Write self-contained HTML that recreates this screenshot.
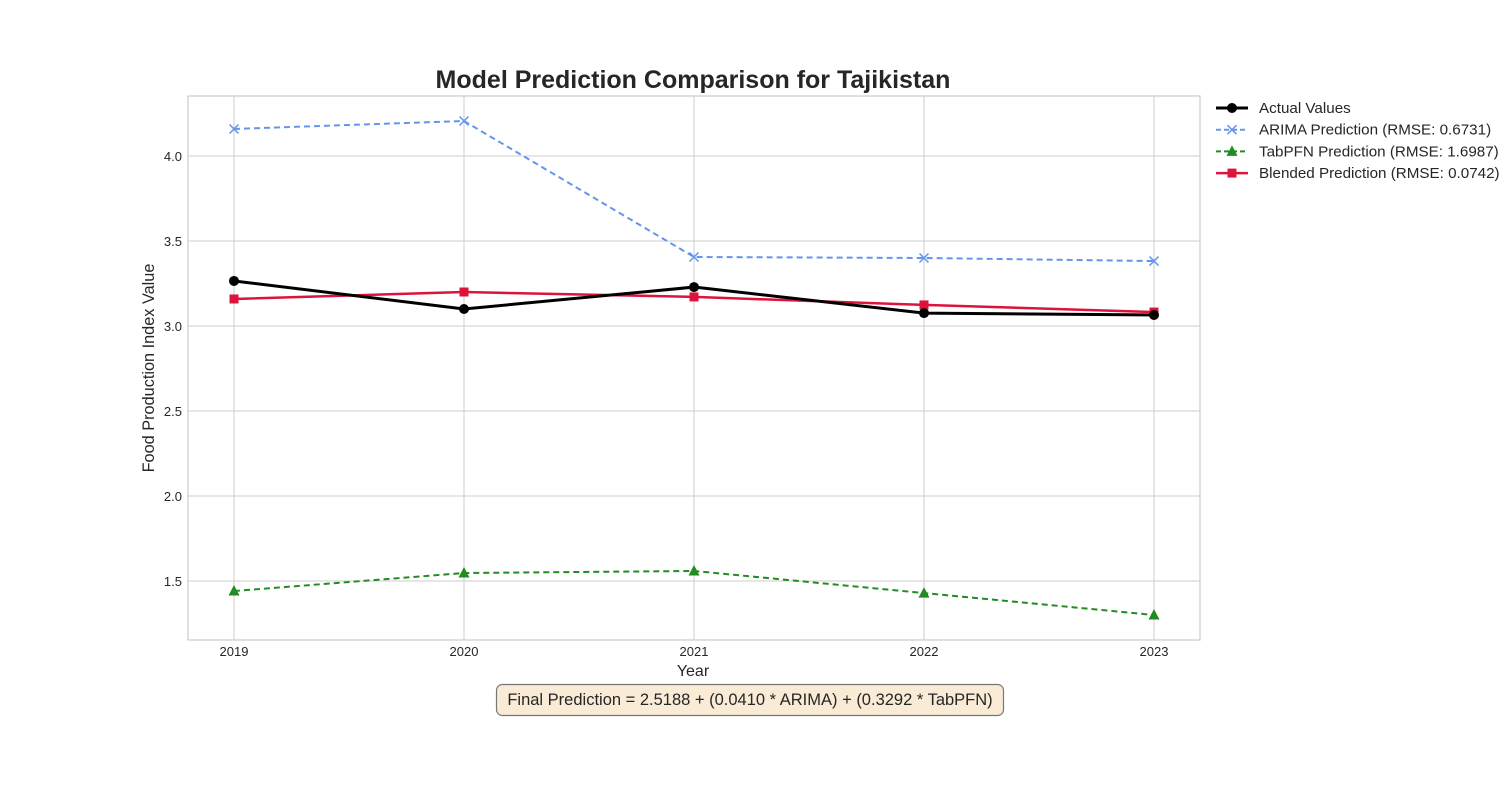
<!DOCTYPE html>
<html><head><meta charset="utf-8"><style>
body{margin:0;background:#fff;font-family:"Liberation Sans",sans-serif;}
svg text{font-family:"Liberation Sans",sans-serif;}
</style></head><body>
<svg id="chart" width="1500" height="800" xmlns="http://www.w3.org/2000/svg">
<rect width="1500" height="800" fill="#fff"/>
<text x="693" y="88" text-anchor="middle" font-size="25" font-weight="bold" fill="#262626">Model Prediction Comparison for Tajikistan</text>
<g id="grid"></g>
<rect x="188" y="96" width="1012" height="544" fill="none" stroke="#ccc" stroke-width="1.2"/>
<g id="ticks"></g>
<g id="series"></g>
<text x="693" y="676" text-anchor="middle" font-size="16" fill="#262626">Year</text>
<text transform="translate(154,368) rotate(-90)" text-anchor="middle" font-size="16.3" fill="#262626">Food Production Index Value</text>
<g>
<rect x="496.5" y="684.5" width="507" height="31" rx="6" fill="#f9ebd5" stroke="#777" stroke-width="1.2"/>
<text x="750" y="705" text-anchor="middle" font-size="16.5" fill="#262626">Final Prediction = 2.5188 + (0.0410 * ARIMA) + (0.3292 * TabPFN)</text>
</g>
<g id="legend"></g>
</svg>
<script>
const years=[2019,2020,2021,2022,2023];
const actual=[3.265,3.10,3.229,3.076,3.065];
const arima=[4.159,4.206,3.406,3.40,3.382];
const tabpfn=[1.441,1.547,1.559,1.429,1.30];
const blended=[3.159,3.20,3.171,3.124,3.082];
const yTicks=[1.5,2.0,2.5,3.0,3.5,4.0];
const labels=["Actual Values","ARIMA Prediction (RMSE: 0.6731)","TabPFN Prediction (RMSE: 1.6987)","Blended Prediction (RMSE: 0.0742)"];
const NS="http://www.w3.org/2000/svg";
const X=v=>234+(v-2019)*230;
const Y=v=>156-(v-4.0)*170;
function mk(tag,attrs,parent){const e=document.createElementNS(NS,tag);for(const k in attrs)e.setAttribute(k,attrs[k]);parent.appendChild(e);return e;}
const grid=document.getElementById('grid'),ticks=document.getElementById('ticks'),ser=document.getElementById('series'),leg=document.getElementById('legend');
years.forEach(y=>{
 const l=mk('line',{x1:X(y),x2:X(y),y1:96,y2:640,stroke:'#ccc','stroke-width':1},grid);
 
 
 const t=mk('text',{x:X(y),y:656,'text-anchor':'middle','font-size':13,fill:'#262626'},ticks);t.textContent=y;
 
 
});
yTicks.forEach(v=>{
 const l=mk('line',{x1:188,x2:1200,y1:Y(v),y2:Y(v),stroke:'#ccc','stroke-width':1},grid);
 
 
 const t=mk('text',{x:182,y:Y(v)+5,'text-anchor':'end','font-size':13,fill:'#262626'},ticks);t.textContent=v.toFixed(1);
 
 
});
function marker(type,x,y,color,p){
 let e;
 if(type==='o')e=mk('circle',{cx:x,cy:y,r:5,fill:color},p);
 else if(type==='s')e=mk('rect',{x:x-4.5,y:y-4.5,width:9,height:9,fill:color},p);
 else if(type==='^')e=mk('polygon',{points:`${x},${y-6} ${x-5.5},${y+4.5} ${x+5.5},${y+4.5}`,fill:color},p);
 else e=mk('path',{d:`M${x-4.5},${y-4.5}L${x+4.5},${y+4.5}M${x-4.5},${y+4.5}L${x+4.5},${y-4.5}`,stroke:color,'stroke-width':1.5},p);
 return e;
}
const defs=[
 {data:arima,color:'#6495ed',w:2,dash:'6,4',m:'x',name:'arima'},
 {data:tabpfn,color:'#228b22',w:2,dash:'6,4',m:'^',name:'tabpfn'},
 {data:blended,color:'#dc143c',w:2.5,dash:'',m:'s',name:'blended'},
 {data:actual,color:'#000',w:3,dash:'',m:'o',name:'actual'}
];
defs.forEach(d=>{
 const g=mk('g',{},ser);
 
 
 const pl=mk('polyline',{points:d.data.map((v,i)=>X(years[i])+','+Y(v)).join(' '),fill:'none',stroke:d.color,'stroke-width':d.w,'stroke-dasharray':d.dash},g);
 
 
 d.data.forEach((v,i)=>{const m=marker(d.m,X(years[i]),Y(v),d.color,g);
  
  });
});
const order=[3,0,1,2];
order.forEach((di,i)=>{
 const d=defs[di],y=108+i*21.7;
 const g=mk('g',{},leg);
 
 
 mk('line',{x1:1216,x2:1248,y1:y,y2:y,stroke:d.color,'stroke-width':d.w,'stroke-dasharray':d.dash?'5,3':''},g);
 marker(d.m,1232,y,d.color,g);
 const t=mk('text',{x:1259,y:y+5,'font-size':15.2,fill:'#262626'},g);t.textContent=labels[i];
});
</script>
</body></html>
